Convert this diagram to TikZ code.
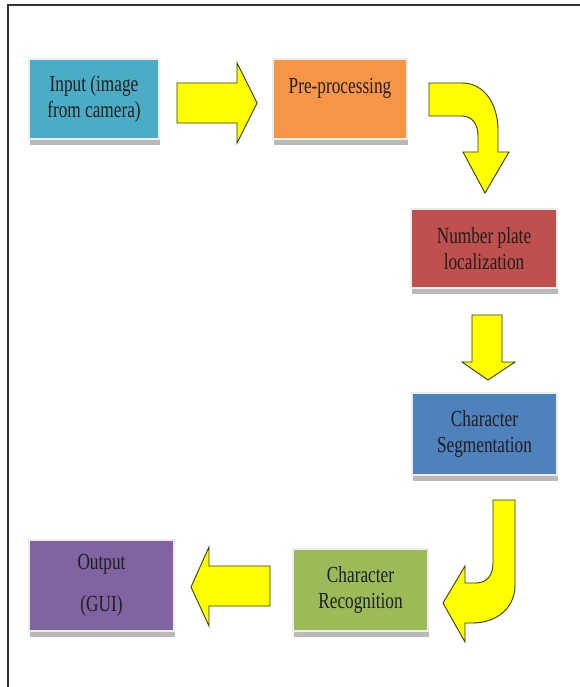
\documentclass[tikz,border=0pt]{standalone}
\usepackage{fontspec}
\setmainfont[FakeStretch=0.75]{Liberation Serif}
\definecolor{cInput}{HTML}{4BACC6}
\definecolor{cPre}{HTML}{F79646}
\definecolor{cPlate}{HTML}{C0504D}
\definecolor{cSeg}{HTML}{4F81BD}
\definecolor{cOut}{HTML}{8064A2}
\definecolor{cRec}{HTML}{9BBB59}
\definecolor{arrowfill}{HTML}{FFFF00}
\definecolor{arrowline}{HTML}{3A3A10}
\definecolor{textc}{HTML}{1E1E1E}
\tikzset{
  boxstyle/.style={rectangle, inner sep=0pt, fill=#1, draw=white!93!black, line width=2.5pt,
    preaction={fill=gray!55, transform canvas={shift={(1pt,-6pt)}}},
    align=center, text=textc, font=\fontsize{23}{26}\selectfont},
  blockarrow/.style={fill=arrowfill, draw=arrowline, line width=0.9pt, line join=miter},
  frameline/.style={draw=black!80, line width=1.6pt}
}
\begin{document}
\begin{tikzpicture}[x=1pt,y=-1pt]
\useasboundingbox (0,0) rectangle (580,687);
\fill[white] (0,0) rectangle (580,687);
% frame
\draw[frameline] (8,687) -- (8,5) -- (580,5);
% boxes
\node[boxstyle=cInput, minimum width=130pt, minimum height=80pt] (input) at (94,99) {Input (image\\from camera)};
\node[boxstyle=cPre, minimum width=134pt, minimum height=80pt] (pre) at (340,99) {Pre-processing\\\mbox{}};
\node[boxstyle=cPlate, minimum width=146pt, minimum height=79pt] (plate) at (484,248.5) {Number plate\\localization};
\node[boxstyle=cSeg, minimum width=145pt, minimum height=82pt] (seg) at (484.5,434) {Character\\Segmentation};
\node[boxstyle=cRec, minimum width=135pt, minimum height=82pt] (rec) at (360.5,590) {Character\\Recognition};
\node[boxstyle=cOut, minimum width=145pt, minimum height=91pt] (out) at (101.5,585.5) {Output\\[16pt](GUI)};
% arrows
\draw[blockarrow] (177,83) -- (237,83) -- (237,63) -- (257,103) -- (237,143) -- (237,123) -- (177,123) -- cycle;
\draw[blockarrow] (429,83) -- (462,83) .. controls (485,83) and (498,105) .. (498,130) -- (498,152) -- (509,152) -- (485,193) -- (463,152) -- (478,152) -- (478,136) .. controls (478,124) and (472,116) .. (462,116) -- (429,116) -- cycle;
\draw[blockarrow] (472,315) -- (502,315) -- (502,362) -- (515,362) -- (488,380) -- (462,362) -- (472,362) -- cycle;
\draw[blockarrow] (493,500) -- (515,500) -- (515,585) .. controls (515,608) and (497,623) .. (472,623) -- (465,623) -- (465,642) -- (443,603) -- (465,566) -- (465,583) -- (476,583) .. controls (487,583) and (493,575) .. (493,563) -- cycle;
\draw[blockarrow] (270,566) -- (209,566) -- (209,547) -- (191,587) -- (209,626) -- (209,606) -- (270,606) -- cycle;
\end{tikzpicture}
\end{document}
